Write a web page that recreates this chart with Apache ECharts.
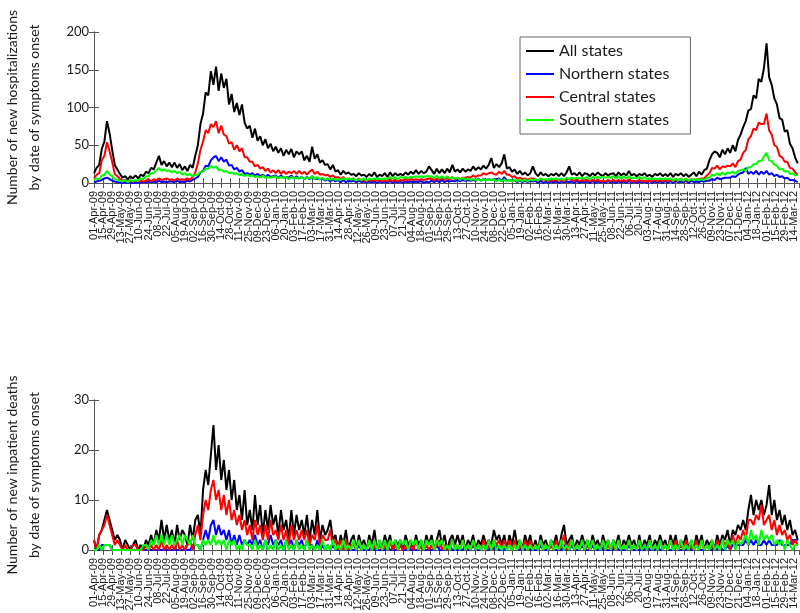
<!DOCTYPE html>
<html><head><meta charset="utf-8">
<script src="https://cdn.jsdelivr.net/npm/echarts@6/dist/echarts.min.js"></script>
<style>html,body{margin:0;padding:0;background:#fff}#c{width:800px;height:613px}</style>
</head><body><div id="c"></div>
<script>
// x sampling: days since 01-Apr-2009, one sample every 4 days
const START_UTC = Date.UTC(2009, 3, 1);
const STEP_DAYS = 4;
const X_MAX_DAY = 1086;
const TICK_DAYS = 14;
const LAST_TICK_DAY = 1078;
const seriesNames = ['All states', 'Northern states', 'Central states', 'Southern states'];
const seriesColors = ['#000000', '#0000ff', '#ff0000', '#00ff00'];
const hospYTicks = [0, 50, 100, 150, 200];
const deathYTicks = [0, 10, 20, 30];

// Top panel: new hospitalizations
const hospAll = [
13,20,24,45,55,82,66,44,24,18, 12,7,9,5,9,6,10,6,11,9, 15,13,20,18,27,36,24,29,22,27, 21,27,20,25,17,22,16,24,20,36,
50,78,92,120,116,148,130,154,122,145, 126,138,104,118,94,106,90,104,80,72, 76,60,72,56,62,50,58,46,52,42, 48,40,46,36,44,38,45,34,42,38,
42,30,36,28,48,32,38,27,30,24, 25,18,24,15,17,11,16,12,14,11, 12,9,13,10,11,8,12,9,14,8, 11,9,13,8,14,9,13,10,12,10,
14,11,15,12,17,12,16,13,15,22, 17,12,19,13,18,13,19,14,24,15, 18,14,19,15,18,16,22,17,21,18, 23,19,24,33,20,25,21,26,38,19,
21,15,18,12,16,11,14,10,13,22, 13,9,14,10,12,9,12,10,13,9, 13,9,14,22,11,13,10,14,9,13, 12,9,13,10,14,11,9,13,10,12,
13,9,14,10,13,10,16,10,12,9, 12,10,13,9,11,8,12,10,13,9, 12,9,13,8,12,10,13,9,12,8, 11,14,9,15,11,17,19,30,38,42,
40,34,44,38,46,40,50,42,57,64, 74,82,96,98,116,112,138,134,152,185, 140,130,112,104,86,84,68,70,52,46, 34,26];
const hospNorth = [
1,2,3,4,6,7,5,3,2,1, 1,0,1,0,1,0,1,0,1,1, 1,2,1,2,1,3,1,2,1,2, 2,1,3,1,2,1,3,2,4,6,
8,14,16,23,22,30,34,36,29,34, 28,31,23,24,18,20,15,17,12,13, 11,13,10,12,9,11,8,11,8,9, 10,7,10,7,8,7,10,6,9,6,
8,5,8,5,9,5,6,5,6,3, 5,2,5,2,4,1,4,1,3,2, 3,1,3,1,2,1,2,1,2,0, 2,1,2,0,3,0,2,1,2,0,
2,1,2,1,2,1,3,0,2,1, 3,1,3,1,4,1,3,2,3,2, 4,2,4,3,4,3,4,3,6,3, 5,4,5,4,5,5,6,3,8,3,
4,3,4,1,4,1,3,1,3,2, 3,0,3,0,2,0,2,1,2,0, 2,1,2,1,2,0,3,0,2,1, 2,0,3,0,2,1,2,0,3,0,
2,0,2,1,2,0,3,0,2,0, 2,1,2,0,3,0,2,1,2,0, 3,0,3,0,3,1,2,1,3,0, 3,1,2,1,3,2,3,3,5,4,
7,5,6,7,7,7,9,8,11,13, 14,20,12,15,12,16,11,15,12,16, 11,13,9,11,8,9,6,7,4,4, 3,1];
const hospCentral = [
6,11,13,30,36,54,42,28,12,9, 5,3,4,2,3,2,3,2,3,2, 3,5,2,5,3,6,4,5,6,4, 5,3,6,4,5,4,6,4,8,14,
26,44,55,70,66,78,74,82,66,76, 64,62,52,54,44,50,42,46,34,34, 28,28,22,24,19,21,16,19,14,17, 13,17,12,16,12,15,13,16,12,16,
12,15,11,15,18,12,15,11,12,10, 11,8,10,7,8,5,8,5,6,5, 6,3,6,3,4,3,4,3,4,3, 4,2,4,2,5,2,4,2,4,3,
5,3,5,4,5,4,5,4,5,6, 6,3,6,4,7,4,7,4,8,5, 7,5,7,7,8,7,10,8,10,10, 13,11,13,14,12,11,15,12,16,11,
11,8,9,6,7,5,6,4,6,6, 5,3,6,3,4,3,4,3,4,3, 5,2,5,5,4,3,5,2,4,3, 4,2,4,2,5,2,3,2,4,2,
4,2,4,2,4,2,5,2,3,2, 4,2,3,2,3,2,5,2,4,2, 5,2,4,3,4,3,6,3,4,3, 5,4,5,5,6,6,10,13,20,19,
23,18,22,21,23,22,26,21,29,31, 40,44,58,62,72,70,80,78,78,92, 70,64,50,48,36,34,28,28,20,19, 14,11];
const hospSouth = [
4,6,5,10,11,16,11,9,5,4, 3,2,4,1,4,2,4,3,6,5, 9,9,13,13,17,20,16,18,16,17, 14,16,13,15,11,13,10,12,9,11,
11,15,15,19,19,23,20,22,17,18, 15,16,13,14,12,13,10,12,9,11, 9,10,8,9,7,10,7,8,7,8, 9,6,8,7,8,5,8,6,7,6,
8,5,7,6,9,5,8,5,7,4, 6,4,6,4,5,4,6,5,6,5, 5,4,5,4,6,3,6,5,6,5, 6,5,6,5,8,5,8,5,8,7,
8,6,8,8,9,8,9,8,9,9, 9,6,10,6,9,6,9,6,7,6, 7,4,7,4,6,4,5,4,5,3, 5,3,5,4,5,2,5,2,5,2,
4,2,5,2,5,2,5,2,5,3, 5,3,6,4,5,4,6,5,6,4, 6,4,7,5,7,6,7,6,7,6, 8,5,8,7,8,7,8,7,8,7,
9,6,9,6,9,6,9,6,7,6, 8,5,8,5,6,5,6,5,6,5, 6,5,6,3,6,3,6,3,6,3, 5,4,5,4,5,4,7,7,11,10,
13,10,14,11,14,13,15,12,16,17, 18,16,21,21,25,25,29,29,35,40, 30,29,24,23,18,19,15,16,12,13, 10,11];

// Bottom panel: new inpatient deaths
const deathAll = [
2,0,3,4,6,8,6,4,2,3, 2,0,2,1,0,1,2,0,1,0, 2,1,3,1,4,2,6,2,5,2, 4,1,5,2,4,3,1,5,2,6,
7,3,12,16,13,19,25,16,21,14, 18,12,16,10,14,8,11,6,12,5, 8,4,11,5,9,3,8,4,9,5, 7,3,8,4,6,2,8,3,7,4,
6,3,7,2,6,3,8,2,5,3, 4,6,2,3,0,3,1,4,0,2, 3,0,3,1,2,0,3,1,4,0, 2,0,3,1,3,0,2,1,2,0,
3,1,2,0,3,1,2,0,3,1, 3,0,2,4,1,3,0,2,3,1, 3,1,3,0,2,1,3,0,2,1, 3,1,2,1,4,2,3,1,3,0,
3,1,4,1,2,0,3,1,3,0, 2,0,3,1,2,0,2,1,3,0, 3,5,1,2,3,0,2,1,3,1, 2,0,3,1,2,0,3,1,2,0,
2,1,3,0,2,1,3,1,2,0, 3,0,2,1,3,0,2,1,3,1, 2,0,3,1,3,0,2,1,3,0, 2,0,3,1,3,0,2,1,2,0,
3,1,3,2,4,1,4,3,5,4, 6,4,8,11,7,10,8,10,7,9, 13,7,10,6,8,5,7,4,6,3, 4,2];
const deathNorth = [
0,0,0,1,1,1,1,0,0,0, 0,0,0,0,0,0,0,0,0,0, 0,0,0,0,0,0,0,0,0,0, 0,0,0,0,0,0,0,0,1,1,
1,0,2,4,2,5,6,3,5,3, 4,2,4,1,3,1,3,1,2,1, 2,1,3,1,2,0,2,1,3,1, 2,1,2,0,2,1,2,0,2,1,
2,0,2,1,1,0,2,0,1,0, 1,0,1,0,0,0,1,0,0,0, 0,0,1,0,0,0,0,1,0,0, 0,0,0,1,0,0,0,0,1,0,
0,1,0,0,0,0,1,0,0,0, 0,0,1,0,0,0,0,1,0,0, 0,0,0,1,0,0,1,0,0,0, 1,0,0,1,0,1,0,0,0,1,
1,0,1,0,0,1,0,1,0,0, 0,0,1,0,0,0,1,0,0,0, 0,1,0,0,1,0,0,0,1,0, 0,0,1,0,0,1,0,0,0,0,
0,1,0,0,0,0,1,0,0,0, 0,0,0,1,0,0,0,1,0,0, 1,0,0,0,1,0,0,0,0,1, 0,0,1,0,0,0,1,0,0,1,
0,1,0,0,1,0,1,1,1,1, 1,2,1,2,1,2,1,1,2,1, 2,1,1,1,2,1,1,1,1,2, 2,2];
const deathCentral = [
2,0,3,4,5,7,5,3,1,2, 1,0,1,0,0,1,1,0,0,0, 1,0,1,0,1,0,2,0,1,0, 1,0,2,0,1,0,1,2,0,3,
5,2,7,10,8,12,14,10,12,8, 11,7,10,6,8,5,7,4,6,3, 5,2,6,3,5,2,5,2,6,3, 4,2,5,2,4,1,5,2,4,2,
4,2,4,1,3,2,5,1,3,2, 2,4,1,2,0,2,0,2,0,1, 1,0,2,0,1,0,2,0,1,0, 1,0,1,0,2,0,1,0,1,0,
1,0,1,0,2,0,1,0,1,0, 1,0,1,2,0,1,0,1,2,0, 1,0,2,0,1,0,2,0,1,0, 2,0,1,0,2,1,2,0,2,0,
2,0,2,0,1,0,2,0,2,0, 1,0,2,0,1,0,1,0,2,0, 1,3,0,1,2,0,1,0,2,0, 1,0,2,0,1,0,2,0,1,0,
1,0,2,0,1,0,2,0,1,0, 2,0,1,0,2,0,1,0,2,0, 1,0,2,0,2,0,1,0,2,0, 1,0,2,0,2,0,1,0,1,0,
2,0,2,1,2,0,3,1,3,2, 4,2,6,6,5,7,6,9,5,6, 7,4,6,3,5,3,4,2,3,1, 2,1];
const deathSouth = [
0,0,1,0,1,1,1,0,0,0, 0,0,0,0,0,0,0,0,0,1, 1,0,2,1,3,1,3,1,3,1, 3,1,2,3,1,3,2,1,3,1,
1,0,2,1,2,1,3,1,2,1, 2,0,2,1,2,0,1,0,2,1, 1,0,2,0,1,0,2,0,1,0, 2,0,1,0,2,0,1,0,2,0,
1,0,2,0,1,0,1,0,2,0, 1,0,2,0,1,0,2,0,1,0, 2,0,2,0,1,0,2,0,2,0, 2,0,2,0,2,1,2,0,2,1,
2,0,2,1,2,0,2,0,2,1, 2,0,2,1,2,0,1,0,2,0, 1,0,2,0,1,0,2,0,1,0, 1,0,2,0,2,0,1,0,1,0,
1,0,1,0,2,0,1,0,1,0, 1,0,2,0,1,0,2,0,1,0, 2,0,1,0,2,0,1,0,2,0, 2,0,2,0,1,0,2,0,2,0,
2,0,2,0,1,0,2,0,1,0, 2,0,1,0,2,0,1,0,2,0, 1,0,2,0,1,0,2,0,1,0, 2,0,1,0,2,0,1,0,2,0,
1,0,2,0,2,1,2,0,2,1, 2,3,1,4,2,3,1,4,2,3, 2,3,1,2,1,2,0,2,1,0, 1,1];

const sampleDays = hospAll.map((_, i) => i * STEP_DAYS);
const MONTHS = ['Jan','Feb','Mar','Apr','May','Jun','Jul','Aug','Sep','Oct','Nov','Dec'];
function dayLabel(d) {
  const dt = new Date(START_UTC + d * 86400000);
  const dd = String(dt.getUTCDate()).padStart(2, '0');
  return dd + '-' + MONTHS[dt.getUTCMonth()] + '-' + String(dt.getUTCFullYear()).slice(2);
}
const xTickLabels = [];
for (let d = 0; d <= LAST_TICK_DAY; d += TICK_DAYS) xTickLabels.push(dayLabel(d));

const AX = '#555';
const TXT = '#1a1a1a';
const FONT = 'Lato, "Open Sans", sans-serif';
const XLABEL = { rotate: 90, fontSize: 11, lineHeight: 9, fontFamily: '"Liberation Sans", Arial, sans-serif', color: TXT, margin: 8, hideOverlap: false };

function xAxesFor(gi) {
  const base = {
    type: 'value', gridIndex: gi, min: 0, max: X_MAX_DAY, interval: TICK_DAYS,
    axisLine: { show: true, lineStyle: { color: AX, width: 1 } },
    axisTick: { show: true, inside: true, length: 5, lineStyle: { color: AX } },
    splitLine: { show: false }
  };
  return [
    // main date axis (its first label is drawn by the helper axis below)
    Object.assign({}, base, { position: 'bottom',
      axisLabel: Object.assign({ show: true, showMinLabel: false, showMaxLabel: false,
        formatter: v => (v % TICK_DAYS === 0 && v <= LAST_TICK_DAY) ? xTickLabels[v / TICK_DAYS] : '' }, XLABEL) }),
    Object.assign({}, base, { position: 'top', axisLabel: { show: false } }),
    // helper axis that only carries the first date label
    Object.assign({}, base, { position: 'bottom', axisLine: { show: false }, axisTick: { show: false },
      axisLabel: Object.assign({ show: true, showMinLabel: true, showMaxLabel: false,
        formatter: v => v === 0 ? xTickLabels[0] : '' }, XLABEL) })
  ];
}
function yAxesFor(gi, ticks, title) {
  const mx = ticks[ticks.length - 1];
  const itv = ticks[1] - ticks[0];
  const base = {
    type: 'value', gridIndex: gi, min: 0, max: mx, interval: itv,
    axisLine: { show: true, lineStyle: { color: AX, width: 1 } },
    axisTick: { show: true, inside: true, length: 5, lineStyle: { color: AX } },
    splitLine: { show: false }
  };
  return [
    Object.assign({}, base, { position: 'left', name: title, nameLocation: 'middle', nameRotate: 90, nameGap: 49,
      nameTextStyle: { fontSize: 14, lineHeight: 22, fontFamily: FONT, color: TXT },
      axisLabel: { show: true, fontSize: 13, fontFamily: FONT, color: TXT, margin: 5 } }),
    Object.assign({}, base, { position: 'right', axisLabel: { show: false } })
  ];
}

const panels = [
  { data: [hospAll, hospNorth, hospCentral, hospSouth] },
  { data: [deathAll, deathNorth, deathCentral, deathSouth] }
];
const X_PER_GRID = 3;
const series = [];
panels.forEach((p, pi) => {
  p.data.forEach((arr, si) => {
    series.push({
      name: seriesNames[si], type: 'line', xAxisIndex: pi * X_PER_GRID, yAxisIndex: pi * 2,
      data: sampleDays.map((d, i) => [d, arr[i]]),
      showSymbol: false, symbol: 'none',
      lineStyle: { width: 2, color: seriesColors[si] },
      itemStyle: { color: seriesColors[si] },
      animation: false
    });
  });
});

const chart = echarts.init(document.getElementById('c'));
chart.setOption({
  backgroundColor: '#fff',
  animation: false,
  grid: [
    { left: 94, right: 1, top: 32, height: 151, containLabel: false, outerBoundsMode: 'none' },
    { left: 94, right: 1, top: 400, height: 150, containLabel: false, outerBoundsMode: 'none' }
  ],
  xAxis: xAxesFor(0).concat(xAxesFor(1)),
  yAxis: yAxesFor(0, hospYTicks, 'Number of new hospitalizations\nby date of symptoms onset')
    .concat(yAxesFor(1, deathYTicks, 'Number of new inpatient deaths\nby date of symptoms onset')),
  legend: {
    data: seriesNames, orient: 'vertical', left: 520, top: 37,
    backgroundColor: '#fff', borderColor: '#666', borderWidth: 1,
    padding: [6, 21, 6, 6], itemGap: 7, itemWidth: 28, itemHeight: 2, icon: 'rect',
    textStyle: { fontSize: 16, lineHeight: 16, fontFamily: FONT, color: TXT },
    selectedMode: false
  },
  series: series
});
</script>
</body></html>
